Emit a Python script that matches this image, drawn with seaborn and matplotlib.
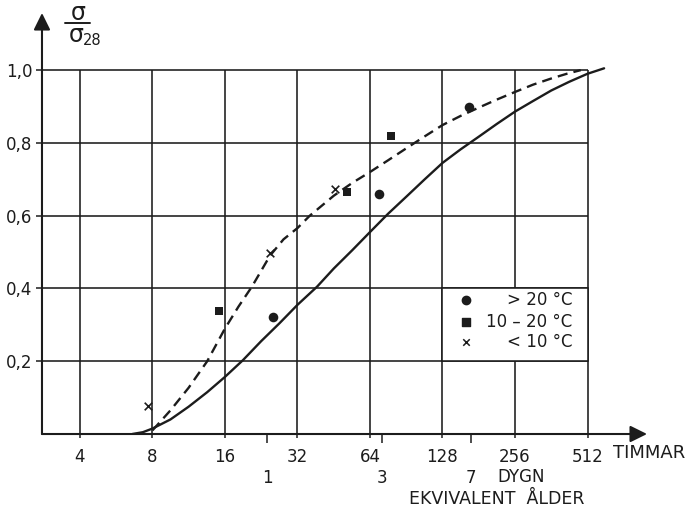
import matplotlib
matplotlib.use("Agg")
import matplotlib.pyplot as plt
import seaborn as sns
from matplotlib.lines import Line2D
from matplotlib.patches import Rectangle
from matplotlib.ticker import NullLocator

# Axis scales: age in hours (log2) and strength ratio
hour_ticks = [4, 8, 16, 32, 64, 128, 256, 512]
day_ticks = [1, 3, 7]
y_ticks = [0.2, 0.4, 0.6, 0.8, 1.0]
y_tick_labels = ["0,2", "0,4", "0,6", "0,8", "1,0"]

# Measured strength ratios, grouped by curing temperature
hot_hours = [25.3, 69.7, 165.0]
hot_ratio = [0.322, 0.659, 0.900]
mid_hours = [15.1, 51.4, 78.0]
mid_ratio = [0.338, 0.665, 0.819]
cold_hours = [7.7, 24.6, 45.8]
cold_ratio = [0.077, 0.497, 0.673]

# Strength development curves
solid_hours = [6.6, 7.3, 8.0, 9.5, 11.3, 13.5, 16.0, 19.0, 22.6, 27.0,
               32.0, 38.6, 45.3, 54.0, 64.0, 76.0, 90.5, 108.0, 128.0,
               152.0, 181.0, 215.0, 256.0, 304.0, 362.0, 430.0, 512.0, 600.0]
solid_ratio = [0.0, 0.005, 0.015, 0.04, 0.075, 0.115, 0.157, 0.203, 0.255,
               0.305, 0.355, 0.405, 0.455, 0.505, 0.555, 0.605, 0.652, 0.70,
               0.745, 0.782, 0.817, 0.852, 0.886, 0.915, 0.944, 0.968, 0.99,
               1.005]
dashed_hours = [8.0, 9.5, 11.3, 13.5, 16.0, 18.2, 20.7, 24.6, 28.0, 32.0,
                36.0, 45.3, 54.0, 64.0, 76.0, 90.5, 108.0, 128.0, 152.0,
                181.0, 215.0, 256.0, 304.0, 362.0, 420.0, 480.0]
dashed_ratio = [0.01, 0.065, 0.127, 0.2, 0.29, 0.35, 0.405, 0.49, 0.535,
                0.566, 0.6, 0.655, 0.69, 0.72, 0.752, 0.785, 0.818, 0.849,
                0.874, 0.897, 0.919, 0.94, 0.96, 0.977, 0.99, 1.0]

legend_labels = ["> 20 °C", "10 – 20 °C", "< 10 °C"]

sns.set_theme(style="white")
plt.rcParams["font.family"] = ["DejaVu Sans"]
ink = "#1c1c1c"
fs = 12

W, H = 694, 516
fig = plt.figure(figsize=(W / 100, H / 100), dpi=100)
fig.patch.set_facecolor("white")
ax = fig.add_axes([0.0605, 0.1589, 0.8718, 0.8159])
ax.set_facecolor("white")
ax.set_xscale("log", base=2)
x_lo, x_hi = 2.782, 904.4
ax.set_xlim(x_lo, x_hi)
ax.set_ylim(0, 1.157)
for sp in ax.spines.values():
    sp.set_visible(False)

# Grid
ax.vlines(hour_ticks, 0, 1.0, colors=ink, lw=1.15, zorder=1)
ax.hlines(y_ticks, x_lo, 512, colors=ink, lw=1.15, zorder=1)

# Axes with arrow heads
arrow = dict(arrowstyle="-|>,head_length=0.85,head_width=0.42", color=ink,
             lw=1.5, shrinkA=0, shrinkB=0)
ax.annotate("", xy=(1, 0), xytext=(0, 0), xycoords="axes fraction",
            arrowprops=arrow, annotation_clip=False)
ax.annotate("", xy=(0, 1), xytext=(0, 0), xycoords="axes fraction",
            arrowprops=arrow, annotation_clip=False)

# Ticks and labels
ax.xaxis.set_minor_locator(NullLocator())
ax.set_xticks(hour_ticks)
ax.set_xticklabels([str(h) for h in hour_ticks])
ax.set_yticks(y_ticks)
ax.set_yticklabels(y_tick_labels)
ax.tick_params(axis="x", bottom=True, direction="out", length=3, width=1.1,
               color=ink, pad=7, labelsize=fs, labelcolor=ink)
ax.tick_params(axis="y", left=True, direction="out", length=4, width=1.1,
               color=ink, pad=3, labelsize=fs, labelcolor=ink)

# Equivalent age in days
day_hours = [d * 24 for d in day_ticks]
ax.vlines(day_hours, -0.025, 0.0, colors=ink, lw=1.1, clip_on=False)
for d, h in zip(day_ticks, day_hours):
    ax.text(h, -0.121, str(d), ha="center", va="center", fontsize=fs,
            color=ink)
fig.text(497 / W, 1 - 477 / H, "DYGN", ha="left", va="center",
         fontsize=fs, color=ink)
fig.text(613 / W, 1 - 453 / H, "TIMMAR", ha="left", va="center",
         fontsize=fs + 1, color=ink)
fig.text(497 / W, 1 - 499 / H, "EKVIVALENT  ÅLDER", ha="center",
         va="center", fontsize=fs + 0.5, color=ink)

# Y label: sigma over sigma_28
fig.text(78 / W, 1 - 20 / H, "σ", ha="center", va="baseline",
         fontsize=17, color=ink)
fig.add_artist(Line2D([65 / W, 90 / W], [1 - 23 / H, 1 - 23 / H],
                      color=ink, lw=1.4))
fig.text(76 / W, 1 - 42 / H, "σ", ha="center", va="baseline",
         fontsize=17, color=ink)
fig.text(83 / W, 1 - 45 / H, "28", ha="left", va="baseline",
         fontsize=10.5, color=ink)

# Curves
sns.lineplot(x=solid_hours, y=solid_ratio, ax=ax, color=ink, lw=1.7,
             zorder=3)
sns.lineplot(x=dashed_hours, y=dashed_ratio, ax=ax, color=ink, lw=1.7,
             linestyle=(0, (4.3, 2.6)), zorder=3)

# Measurements
sns.scatterplot(x=hot_hours, y=hot_ratio, ax=ax, marker="o", s=48,
                color=ink, edgecolor=ink, linewidth=0, zorder=4)
sns.scatterplot(x=mid_hours, y=mid_ratio, ax=ax, marker="s", s=36,
                color=ink, edgecolor=ink, linewidth=0, zorder=4)
sns.scatterplot(x=cold_hours, y=cold_ratio, ax=ax, marker="x", s=30,
                color=ink, linewidth=1.2, zorder=4)

# Key in the grid cell 128-512 h, 0.2-0.4
ax.add_patch(Rectangle((128, 0.2), 512 - 128, 0.2, facecolor="white",
                       edgecolor=ink, lw=1.15, zorder=2))
key_x = 160.0
key_text_x = 443.0
key_rows = [0.368, 0.308, 0.253]
ax.scatter([key_x], [key_rows[0]], marker="o", s=36, color=ink, zorder=5)
ax.scatter([key_x], [key_rows[1]], marker="s", s=28, color=ink, zorder=5)
ax.scatter([key_x], [key_rows[2]], marker="x", s=22, color=ink,
           linewidth=1.1, zorder=5)
for y, lab in zip(key_rows, legend_labels):
    ax.text(key_text_x, y, lab, ha="right", va="center", fontsize=fs,
            color=ink, zorder=5)

fig.savefig("out.png", dpi=100, facecolor="white")
